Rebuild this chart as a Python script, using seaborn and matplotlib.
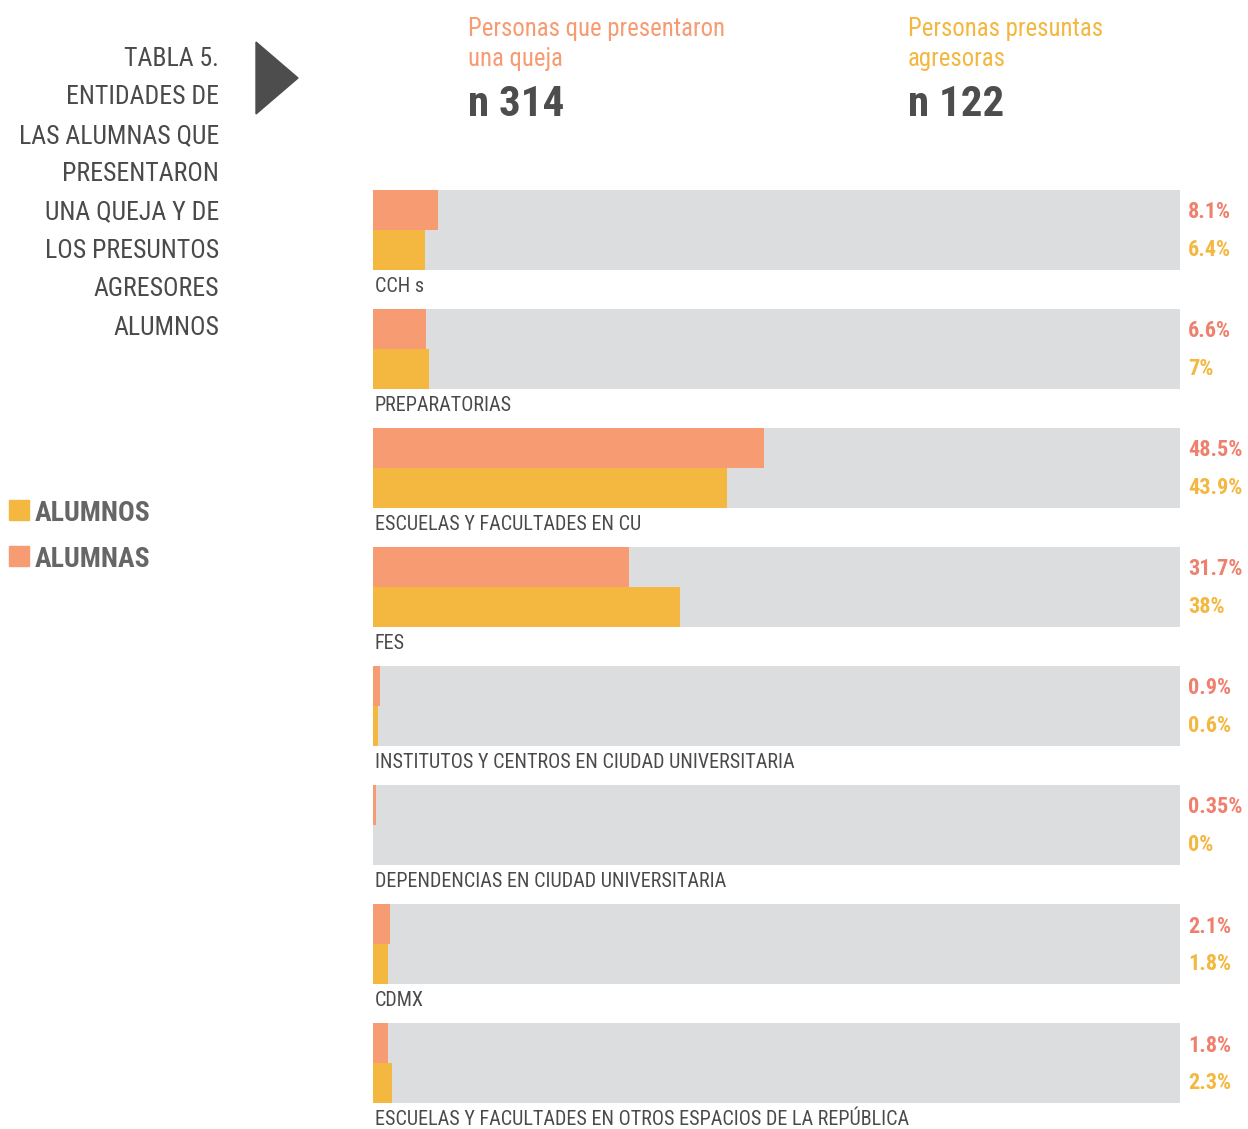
import os
import pandas as pd
import matplotlib.pyplot as plt
import matplotlib.font_manager as fm
import seaborn as sns
from matplotlib.patches import Polygon, Rectangle

# Datos
entidades = ["CCH s", "PREPARATORIAS", "ESCUELAS Y FACULTADES EN CU", "FES",
             "INSTITUTOS Y CENTROS EN CIUDAD UNIVERSITARIA",
             "DEPENDENCIAS EN CIUDAD UNIVERSITARIA", "CDMX",
             "ESCUELAS Y FACULTADES EN OTROS ESPACIOS DE LA REPÚBLICA"]
alumnas = [8.1, 6.6, 48.5, 31.7, 0.9, 0.35, 2.1, 1.8]
alumnos = [6.4, 7, 43.9, 38, 0.6, 0, 1.8, 2.3]
etiquetas_alumnas = ["8.1%", "6.6%", "48.5%", "31.7%", "0.9%", "0.35%", "2.1%", "1.8%"]
etiquetas_alumnos = ["6.4%", "7%", "43.9%", "38%", "0.6%", "0%", "1.8%", "2.3%"]
total = [100] * len(entidades)

CORAL = "#F79B72"
AMARILLO = "#F4B740"
GRIS = "#DCDDDF"
TEXTO = "#4A4A4A"

df_bg = pd.DataFrame({"entidad": entidades, "total": total})
df = pd.concat([
    pd.DataFrame({"entidad": entidades, "valor": alumnas, "grupo": "ALUMNAS"}),
    pd.DataFrame({"entidad": entidades, "valor": alumnos, "grupo": "ALUMNOS"}),
])

sns.set_style("white")
plt.rcParams["font.family"] = ["DejaVu Sans"]


# Buscar una fuente estrecha (Narrow / Condensed) instalada
def peso(w):
    if isinstance(w, str):
        return fm.weight_dict.get(w, 400)
    return int(w)


preferidas = ["liberationsansnarrow", "robotocondensed", "opensans_condensed",
              "opensanscondensed", "notosanscondensed", "notosans-condensed",
              "dejavusanscondensed", "condensed", "narrow"]
estrechas = []
for f in fm.fontManager.ttflist:
    base = os.path.basename(f.fname).lower()
    if f.style != "normal" or "italic" in base or "oblique" in base:
        continue
    if "extracondensed" in base or "ultracondensed" in base:
        continue
    if "narrow" in base or "condensed" in base:
        estrechas.append(f)


def elegir(w):
    mejor, clave = None, None
    for f in estrechas:
        base = os.path.basename(f.fname).lower()
        rango = next(i for i, p in enumerate(preferidas) if p in base)
        k = (rango, abs(peso(f.weight) - w))
        if clave is None or k < clave:
            mejor, clave = f, k
    return mejor


reg = elegir(400)
neg = elegir(700)
escala = 1.0 if reg is not None else 0.82


def fuente(size, bold=False):
    f = neg if bold else reg
    if f is None:
        return fm.FontProperties(family="DejaVu Sans", size=size * escala,
                                 weight="bold" if bold else "normal")
    return fm.FontProperties(fname=f.fname, size=size)


W, H = 1248, 1129
fig = plt.figure(figsize=(W / 100, H / 100), dpi=100)
ax = fig.add_axes([373 / W, 1 - 1103 / H, (1180 - 373) / W, (1103 - 190) / H])

ancho = 0.67
sns.barplot(data=df_bg, y="entidad", x="total", order=entidades, color=GRIS,
            width=ancho, errorbar=None, ax=ax, saturation=1, linewidth=0)
sns.barplot(data=df, y="entidad", x="valor", hue="grupo", order=entidades,
            hue_order=["ALUMNAS", "ALUMNOS"], palette=[CORAL, AMARILLO],
            width=ancho, errorbar=None, ax=ax, saturation=1, legend=False, linewidth=0)

ax.set_xlim(0, 100)
ax.set_ylim(len(entidades) - 1 + ancho / 2, -ancho / 2)
ax.set_axis_off()

for i, nombre in enumerate(entidades):
    ax.text(0.2, i + ancho / 2 + 0.185, nombre, fontproperties=fuente(14.5), color=TEXTO,
            va="baseline", ha="left", clip_on=False)
    ax.text(101, i - ancho / 4 + 0.02, etiquetas_alumnas[i], fontproperties=fuente(16, True),
            color="#F0806E", va="center", ha="left", clip_on=False)
    ax.text(101, i + ancho / 4, etiquetas_alumnos[i], fontproperties=fuente(16, True),
            color=AMARILLO, va="center", ha="left", clip_on=False)

# Título
titulo = ["TABLA 5.", "ENTIDADES DE", "LAS ALUMNAS QUE", "PRESENTARON",
          "UNA QUEJA Y DE", "LOS PRESUNTOS", "AGRESORES", "ALUMNOS"]
for k, linea in enumerate(titulo):
    fig.text(219 / W, 1 - (66 + k * 38.4) / H, linea, fontproperties=fuente(18.5),
             color=TEXTO, ha="right", va="baseline")

# Flecha
fig.patches.append(Polygon([(256 / W, 1 - 42 / H), (256 / W, 1 - 114 / H), (298 / W, 1 - 78 / H)],
                           closed=True, transform=fig.transFigure, color="#4D4D4D"))

# Encabezados
for x0, color, l1, l2, n in [(468, CORAL, "Personas que presentaron", "una queja", "n 314"),
                             (908, AMARILLO, "Personas presuntas", "agresoras", "n 122")]:
    fig.text(x0 / W, 1 - 36 / H, l1, fontproperties=fuente(17.8), color=color, va="baseline")
    fig.text(x0 / W, 1 - 66 / H, l2, fontproperties=fuente(17.8), color=color, va="baseline")
    fig.text(x0 / W, 1 - 116 / H, n, fontproperties=fuente(31, True), color="#4D4D4D", va="baseline")

# Leyenda
fig.patches.append(Rectangle((9 / W, 1 - 520 / H), 20 / W, 20 / H, transform=fig.transFigure, color=AMARILLO))
fig.patches.append(Rectangle((9 / W, 1 - 566 / H), 20 / W, 20 / H, transform=fig.transFigure, color=CORAL))
fig.text(35 / W, 1 - 521 / H, "ALUMNOS", fontproperties=fuente(20, True), color="#666666", va="baseline")
fig.text(35 / W, 1 - 567 / H, "ALUMNAS", fontproperties=fuente(20, True), color="#666666", va="baseline")

fig.savefig("out.png", dpi=100, facecolor="white")
